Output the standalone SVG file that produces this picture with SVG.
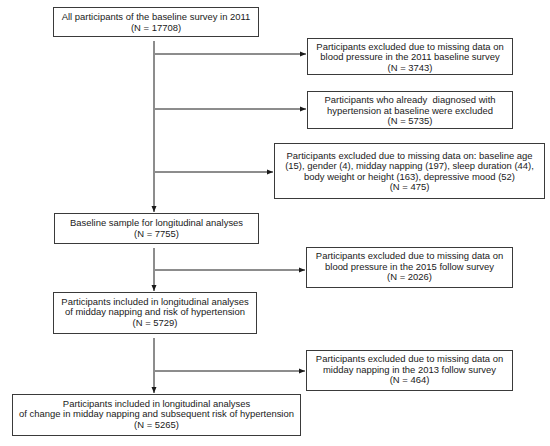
<svg xmlns="http://www.w3.org/2000/svg" width="550" height="446" viewBox="0 0 550 446">
<style>
.box{fill:#fff;stroke:#3a3a3a;stroke-width:1}
text{font-family:"Liberation Sans",Arial,sans-serif;font-size:9.45px;fill:#1a1a1a;text-anchor:middle;white-space:pre}
.ln{stroke:#1a1a1a;stroke-width:1;fill:none}
</style>
<defs>
<marker id="ah" viewBox="0 0 6 6" refX="6" refY="3" markerWidth="6" markerHeight="6" markerUnits="userSpaceOnUse" orient="auto">
<path d="M0,0.5 L6,3 L0,5.5 Z" fill="#1a1a1a"/>
</marker>
</defs>
<rect width="550" height="446" fill="#fff"/>
<g id="connectors">
<path class="ln" d="M154,41 V212" marker-end="url(#ah)"/>
<path class="ln" d="M155,54 H306" marker-end="url(#ah)"/>
<path class="ln" d="M155,109 H306" marker-end="url(#ah)"/>
<path class="ln" d="M155,172 H273" marker-end="url(#ah)"/>
<path class="ln" d="M154,248 V291" marker-end="url(#ah)"/>
<path class="ln" d="M155,270 H305" marker-end="url(#ah)"/>
<path class="ln" d="M154,338 V393" marker-end="url(#ah)"/>
<path class="ln" d="M155,371 H305" marker-end="url(#ah)"/>
</g>
<g id="n1">
<rect class="box" x="53.5" y="7.5" width="205" height="29"/>
<text x="156" y="19.5">All participants of the baseline survey in 2011</text>
<text x="156" y="30.5">(N = 17708)</text>
</g>
<g id="n2">
<rect class="box" x="307.5" y="38.5" width="205" height="36"/>
<text x="410" y="49.8">Participants excluded due to missing data on</text>
<text x="410" y="60.3">blood pressure in the 2011 baseline survey</text>
<text x="410" y="70.8">(N = 3743)</text>
</g>
<g id="n3">
<rect class="box" x="307.5" y="91.5" width="205" height="37"/>
<text x="410" y="103.3">Participants who already  diagnosed with</text>
<text x="410" y="113.8">hypertension at baseline were excluded</text>
<text x="410" y="124.3">(N = 5735)</text>
</g>
<g id="n4">
<rect class="box" x="274.5" y="143.5" width="270" height="55"/>
<text x="409.5" y="158.5">Participants excluded due to missing data on: baseline age</text>
<text x="409.5" y="169">(15), gender (4), midday napping (197), sleep duration (44),</text>
<text x="409.5" y="179.5">body weight or height (163), depressive mood (52)</text>
<text x="409.5" y="190">(N = 475)</text>
</g>
<g id="n5">
<rect class="box" x="54.5" y="213.5" width="204" height="30"/>
<text x="156.5" y="226">Baseline sample for longitudinal analyses</text>
<text x="156.5" y="237">(N = 7755)</text>
</g>
<g id="n6">
<rect class="box" x="306.5" y="247.5" width="206" height="40"/>
<text x="409.5" y="259">Participants excluded due to missing data on</text>
<text x="409.5" y="269.5">blood pressure in the 2015 follow survey</text>
<text x="409.5" y="280">(N = 2026)</text>
</g>
<g id="n7">
<rect class="box" x="53.5" y="292.5" width="203" height="41"/>
<text x="155" y="304.5">Participants included in longitudinal analyses</text>
<text x="155" y="315">of midday napping and risk of hypertension</text>
<text x="155" y="325.5">(N = 5729)</text>
</g>
<g id="n8">
<rect class="box" x="306.5" y="350.5" width="206" height="40"/>
<text x="409.5" y="362">Participants excluded due to missing data on</text>
<text x="409.5" y="372.5">midday napping in the 2013 follow survey</text>
<text x="409.5" y="383">(N = 464)</text>
</g>
<g id="n9">
<rect class="box" x="12.5" y="394.5" width="288" height="41"/>
<text x="156.5" y="406.5">Participants included in longitudinal analyses</text>
<text x="156.5" y="417">of change in midday napping and subsequent risk of hypertension</text>
<text x="156.5" y="427.5">(N = 5265)</text>
</g>
</svg>
